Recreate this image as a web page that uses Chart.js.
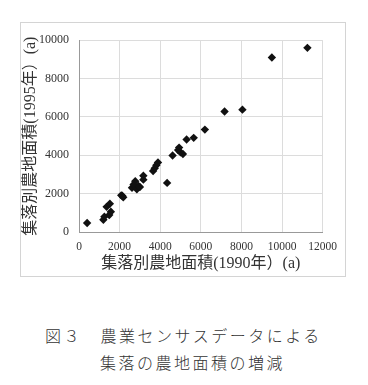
<!DOCTYPE html>
<html><head><meta charset="utf-8">
<script src="https://cdn.jsdelivr.net/npm/chart.js@4"></script>
<style>
html,body{margin:0;padding:0;background:#fff;width:368px;height:385px;overflow:hidden;}
#box{position:absolute;left:20px;top:22px;width:326px;height:255px;border:1px solid #d4d4d4;box-sizing:border-box;}
#box canvas{display:block;}
.cap{position:absolute;font-family:"Noto Sans CJK JP",sans-serif;font-weight:300;font-size:16px;letter-spacing:2.5px;color:#333;white-space:nowrap;line-height:20px;}
</style></head>
<body>
<div id="box"><canvas id="c" width="324" height="253"></canvas></div>
<div class="cap" style="left:45px;top:325px;">図３　農業センサスデータによる</div>
<div class="cap" style="left:100px;top:352px;">集落の農地面積の増減</div>
<script>
const area1990 = [400,1200,1250,1490,1570,1360,1520,2080,2130,2180,2610,2690,2770,2850,2930,3000,3170,3170,3650,3730,3810,3890,4340,4610,4880,4930,5000,5120,5300,5650,6200,7170,8050,9500,11250];
const area1995 = [470,640,800,890,1055,1310,1470,1910,1890,1810,2310,2480,2650,2230,2400,2350,2730,2930,3180,3320,3480,3620,2560,3990,4270,4400,4150,4070,4820,4910,5340,6280,6380,9100,9600];
const xTitle = '集落別農地面積(1990年）(a)';
const yTitle = '集落別農地面積(1995年）(a)';
const xTicks = [0,2000,4000,6000,8000,10000,12000];
const yTicks = [0,2000,4000,6000,8000,10000];

const pts = area1990.map((x,i)=>({x:x,y:area1995[i]}));
const serif = '"Liberation Serif","Noto Sans CJK JP",serif';
new Chart(document.getElementById('c'),{
  type:'scatter',
  data:{datasets:[{data:pts,pointStyle:'rectRot',pointRadius:4.2,backgroundColor:'#111',borderColor:'#111',borderWidth:0}]},
  options:{
    responsive:false,animation:false,devicePixelRatio:1,
    layout:{padding:{left:0,top:9,right:16,bottom:0}},
    plugins:{legend:{display:false},tooltip:{enabled:false}},
    scales:{
      x:{type:'linear',min:xTicks[0],max:xTicks[xTicks.length-1],
        afterBuildTicks:s=>{s.ticks=xTicks.map(v=>({value:v}));},
        afterFit:s=>{s.height=44;},
        grid:{color:'#dcdcdc',drawTicks:false},
        border:{color:'#999'},
        ticks:{padding:8,color:'#333',font:{family:serif,size:11.5},maxRotation:0,autoSkip:false,callback:v=>String(v)},
        title:{display:true,text:xTitle,color:'#333',font:{family:serif,size:16},padding:{top:0,bottom:3}}},
      y:{type:'linear',min:yTicks[0],max:yTicks[yTicks.length-1],
        afterBuildTicks:s=>{s.ticks=yTicks.map(v=>({value:v}));},
        afterFit:s=>{s.width=58;},
        grid:{color:'#dcdcdc',drawTicks:false},
        border:{color:'#999'},
        ticks:{padding:10,color:'#333',font:{family:serif,size:12},callback:v=>String(v)},
        title:{display:true,text:yTitle,color:'#333',font:{family:serif,size:16},padding:{top:0,bottom:0}}}
    }
  }
});
</script>
</body></html>
